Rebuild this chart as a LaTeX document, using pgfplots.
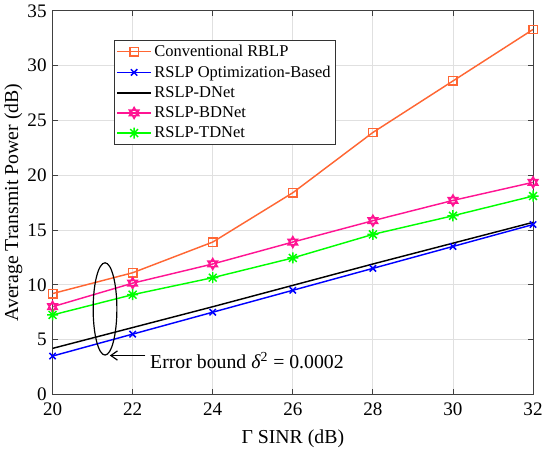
\documentclass[border=0pt]{standalone}
\usepackage{fontspec}
\setmainfont{Liberation Serif}
\usepackage{pgfplots}
\pgfplotsset{compat=1.18}
\usetikzlibrary{arrows.meta}
\definecolor{corange}{RGB}{255,102,51}
\definecolor{cpink}{RGB}{255,20,147}
\definecolor{cgreen}{RGB}{0,255,0}

% MATLAB-like markers
\pgfdeclareplotmark{mstar}{%
  \pgfpathmoveto{\pgfqpoint{-\pgfplotmarksize}{0pt}}\pgfpathlineto{\pgfqpoint{\pgfplotmarksize}{0pt}}%
  \pgfpathmoveto{\pgfqpoint{0pt}{-\pgfplotmarksize}}\pgfpathlineto{\pgfqpoint{0pt}{\pgfplotmarksize}}%
  \pgfpathmoveto{\pgfqpoint{-.707\pgfplotmarksize}{-.707\pgfplotmarksize}}\pgfpathlineto{\pgfqpoint{.707\pgfplotmarksize}{.707\pgfplotmarksize}}%
  \pgfpathmoveto{\pgfqpoint{-.707\pgfplotmarksize}{.707\pgfplotmarksize}}\pgfpathlineto{\pgfqpoint{.707\pgfplotmarksize}{-.707\pgfplotmarksize}}%
  \pgfusepathqstroke}
\pgfdeclareplotmark{hexagram}{%
  \pgfpathmoveto{\pgfqpoint{0pt}{\pgfplotmarksize}}%
  \pgfpathlineto{\pgfqpoint{.866\pgfplotmarksize}{-.5\pgfplotmarksize}}%
  \pgfpathlineto{\pgfqpoint{-.866\pgfplotmarksize}{-.5\pgfplotmarksize}}\pgfpathclose
  \pgfpathmoveto{\pgfqpoint{0pt}{-\pgfplotmarksize}}%
  \pgfpathlineto{\pgfqpoint{.866\pgfplotmarksize}{.5\pgfplotmarksize}}%
  \pgfpathlineto{\pgfqpoint{-.866\pgfplotmarksize}{.5\pgfplotmarksize}}\pgfpathclose
  \pgfusepathqstroke}

\begin{document}
\begin{tikzpicture}
\begin{axis}[
  width=364.5pt, height=291pt, scale only axis,
  xmin=20, xmax=32, ymin=0, ymax=35,
  xtick={20,22,...,32}, ytick={0,5,...,35},
  grid=major, grid style={black!12, line width=0.6pt},
  axis line style={black!75, line width=0.7pt},
  tick style={black!75, line width=0.7pt},
  tick align=inside, major tick length=4pt,
  ticklabel style={font=\fontsize{14.5}{16}\selectfont},
  xticklabel style={yshift=-2.5pt},
  yticklabel style={xshift=-1pt},
  /pgf/number format/assume math mode=true,
  label style={font=\fontsize{15}{17}\selectfont},
  xlabel={Γ SINR (dB)},
  ylabel={Average Transmit Power (dB)},
  xlabel style={yshift=-4pt},
  ylabel style={yshift=-3pt},
  legend style={at={(0.128,0.924)}, anchor=north west, draw=black!80,
    line width=0.7pt,
    font=\fontsize{12.5}{14}\selectfont, inner sep=1.5pt, row sep=1.5pt,
    cells={anchor=west}},
  legend image code/.code={%
    \draw[mark repeat=2,mark phase=2] plot coordinates {(0cm,0cm) (0.45cm,0cm) (0.9cm,0cm)};},
  every axis plot/.append style={line width=1.1pt},
]
\addplot[corange, mark=square, mark size=3.2pt, mark options={solid}] coordinates {
  (20,9.2) (22,11.1) (24,13.9) (26,18.4) (28,23.9) (30,28.6) (32,33.3)};
\addlegendentry{Conventional RBLP}
\addplot[blue, mark=x, mark size=3.4pt] coordinates {
  (20,3.5) (22,5.5) (24,7.5) (26,9.5) (28,11.5) (30,13.5) (32,15.5)};
\addlegendentry{RSLP Optimization-Based}
\addplot[black, no marks] coordinates {
  (20,4.2) (22,6.1) (24,8.0) (26,9.95) (28,11.9) (30,13.8) (32,15.7)};
\addlegendentry{RSLP-DNet}
\addplot[cpink, mark=hexagram, mark size=4.2pt] coordinates {
  (20,8.0) (22,10.15) (24,11.9) (26,13.9) (28,15.85) (30,17.7) (32,19.35)};
\addlegendentry{RSLP-BDNet}
\addplot[cgreen, mark=mstar, mark size=4.2pt] coordinates {
  (20,7.25) (22,9.1) (24,10.65) (26,12.45) (28,14.6) (30,16.3) (32,18.1)};
\addlegendentry{RSLP-TDNet}
\draw[black, line width=0.9pt] (axis cs:21.31,7.8) ellipse [x radius=9pt, y radius=35pt];
\draw[black, line width=0.9pt, -{Straight Barb[length=5pt,width=7pt]}] (axis cs:22.32,3.55) -- (axis cs:21.43,3.55);
\node[anchor=west, inner sep=1pt, font=\fontsize{15}{17}\selectfont] at (axis cs:22.4,3.1) {Error bound \textit{δ}\textsuperscript{2} = 0.0002};
\end{axis}
\end{tikzpicture}
\end{document}
